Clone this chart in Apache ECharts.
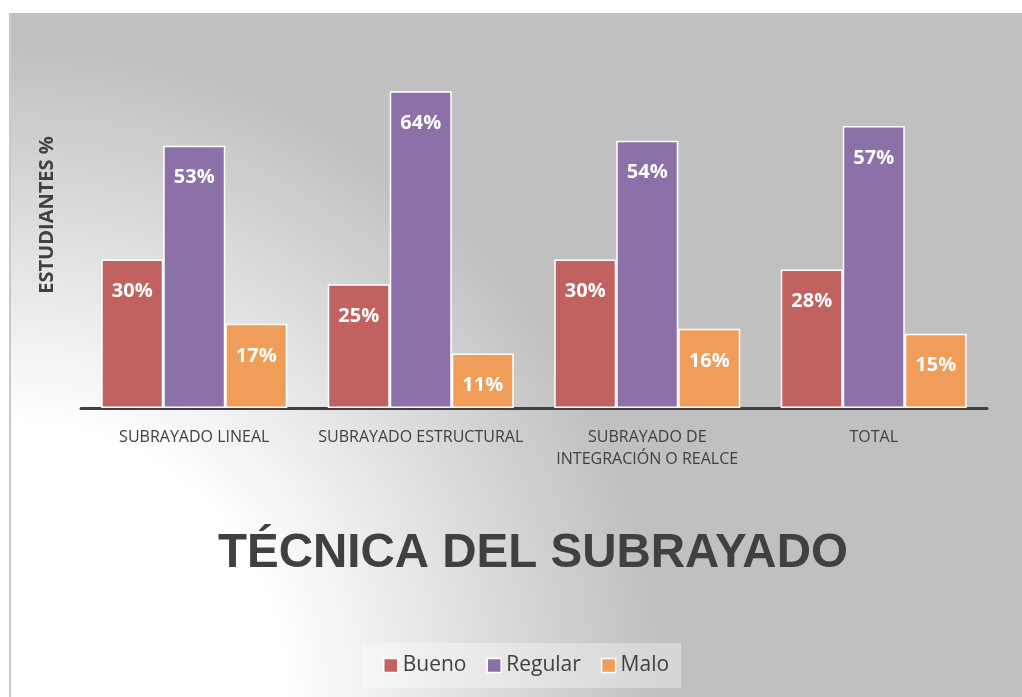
<!DOCTYPE html>
<html>
<head>
<meta charset="utf-8">
<script src="https://cdn.jsdelivr.net/npm/echarts@6/dist/echarts.min.js"></script>
<style>
  html, body { margin: 0; padding: 0; background: #ffffff; }
  #edge { position: absolute; left: 9px; top: 13px; width: 2px; height: 684px; background: #cacaca; }
  #chart { position: absolute; left: 11px; top: 13px; width: 1011px; height: 684px; }
</style>
</head>
<body>
<div id="edge"></div>
<div id="chart"></div>
<script>
// categorias y valores (%)
const categories = [
  "SUBRAYADO LINEAL",
  "SUBRAYADO ESTRUCTURAL",
  "SUBRAYADO DE\nINTEGRACIÓN O REALCE",
  "TOTAL"
];
const bueno = [30, 25, 30, 28];
const regular = [53, 64, 54, 57];
const malo = [17, 11, 16, 15];
const seriesNames = ["Bueno", "Regular", "Malo"];
const seriesColors = ["#c26260", "#8b71a8", "#f19d5a"];

const chart = echarts.init(document.getElementById("chart"));

const labelStyle = {
  show: true,
  position: "insideTop",
  distance: 22,
  color: "#ffffff",
  fontFamily: "Open Sans",
  fontWeight: "bold",
  fontSize: 20,
  formatter: p => p.value + "%"
};

function makeSeries(name, data, color) {
  return {
    name: name,
    type: "bar",
    data: data,
    barWidth: 62,
    barGap: 0,
    itemStyle: {
      color: color,
      borderColor: "#ffffff",
      borderWidth: 1.5
    },
    label: labelStyle,
    animation: false
  };
}

chart.setOption({
  backgroundColor: {
    type: "radial",
    x: 0,
    y: 1,
    r: 1,
    colorStops: [
      { offset: 0, color: "#ffffff" },
      { offset: 0.4, color: "#ffffff" },
      { offset: 0.95, color: "#c0c0c0" },
      { offset: 1, color: "#c0c0c0" }
    ]
  },
  title: {
    text: "TÉCNICA DEL SUBRAYADO",
    left: 207,
    top: 517,
    padding: 0,
    textStyle: {
      fontFamily: "Liberation Sans",
      fontWeight: "bold",
      fontSize: 47.5,
      color: "#404040"
    }
  },
  legend: {
    data: seriesNames,
    icon: "rect",
    left: 351,
    top: 630,
    padding: [12, 12, 12, 21],
    backgroundColor: "rgba(255,255,255,0.35)",
    itemWidth: 14,
    itemHeight: 14,
    itemGap: 20,
    itemStyle: { borderColor: "#ffffff", borderWidth: 1.5 },
    textStyle: {
      fontFamily: "Open Sans",
      fontSize: 21,
      color: "#404040"
    }
  },
  grid: {
    left: 70,
    right: 35,
    top: 9,
    bottom: 289
  },
  xAxis: {
    type: "category",
    data: categories,
    axisLine: { lineStyle: { color: "#404040", width: 3 } },
    axisTick: { show: false },
    axisLabel: {
      interval: 0,
      margin: 18,
      fontFamily: "Open Sans",
      fontSize: 16,
      lineHeight: 22,
      color: "#404040"
    }
  },
  yAxis: {
    type: "value",
    min: 0,
    max: 78,
    name: "ESTUDIANTES %",
    nameLocation: "middle",
    nameGap: 24,
    nameTextStyle: {
      fontFamily: "Open Sans",
      fontWeight: "bold",
      fontSize: 20,
      color: "#404040"
    },
    axisLine: { show: false },
    axisTick: { show: false },
    axisLabel: { show: false },
    splitLine: { show: false }
  },
  series: [
    makeSeries(seriesNames[0], bueno, seriesColors[0]),
    makeSeries(seriesNames[1], regular, seriesColors[1]),
    makeSeries(seriesNames[2], malo, seriesColors[2])
  ]
});
</script>
</body>
</html>
